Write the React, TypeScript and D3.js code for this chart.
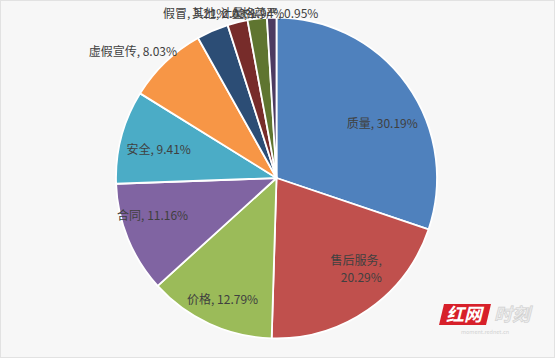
import React from 'react';
import * as d3 from 'd3';

const categories = ['质量', '售后服务', '价格', '合同', '安全', '虚假宣传', '假冒', '其他', '计量', '人格尊严'];
const shares = [30.19, 20.29, 12.79, 11.16, 9.41, 8.03, 3.21, 2.03, 1.94, 0.95];
const colors = ['#4F81BD', '#C0504D', '#9BBB59', '#8064A2', '#4BACC6', '#F79646', '#2C4D75', '#772C2A', '#5F7530', '#4D3B62'];

const W = 555, H = 358, cx = 276.5, cy = 178, R = 160.5;
const FONT = '"Noto Sans CJK SC", "Noto Sans", sans-serif';

export default function App() {
  const pie = d3.pie<number>().sort(null).value((d) => d);
  const arcs = pie(shares);
  const arc = d3.arc<d3.PieArcDatum<number>>().innerRadius(0).outerRadius(R);
  const labelArc = d3.arc<d3.PieArcDatum<number>>().innerRadius(124).outerRadius(124);
  const outerArc = d3.arc<d3.PieArcDatum<number>>().innerRadius(R + 8).outerRadius(R + 8);
  const fmt = (v: number) => v.toFixed(2) + '%';

  // layout nudges for inside labels (Excel-like placement)
  const nudges: [number, number][] = [[5, 17], [13, -11], [-2, 8], [-9, -10], [2, 2]];
  const topStarts = [163, 192, 220, 230];

  return (
    <svg width={W} height={H} style={{ position: 'fixed', left: 0, top: 0 }} fontFamily={FONT}>
      <rect x={0.5} y={0.5} width={W - 1} height={H - 1} fill="#f7f7f7" stroke="#e2e2e2" />
      <g transform={`translate(${cx},${cy})`}>
        {arcs.map((a, i) => (
          <path key={i} d={arc(a) as string} fill={colors[i]} stroke="#ffffff" strokeWidth={1.8} strokeLinejoin="round" />
        ))}
      </g>
      <g fill="#404040" fontSize={12}>
        {arcs.map((a, i) => {
          const label = `${categories[i]}, ${fmt(shares[i])}`;
          if (i < 5) {
            const [x, y] = labelArc.centroid(a);
            const [nx, ny] = nudges[i];
            if (i === 1) {
              return (
                <text key={i} x={cx + x + nx} y={cy + y + ny} textAnchor="middle">
                  <tspan x={cx + x + nx - 4} dy={-4}>{categories[i]},</tspan>
                  <tspan x={cx + x + nx + 1} dy={17}>{fmt(shares[i])}</tspan>
                </text>
              );
            }
            return (
              <text key={i} x={cx + x + nx} y={cy + y + ny} textAnchor="middle" dominantBaseline="central">
                {label}
              </text>
            );
          }
          if (i === 5) {
            const [x, y] = outerArc.centroid(a);
            return (
              <text key={i} x={cx + x + 17} y={cy + y - 6} textAnchor="end" dominantBaseline="central">
                {label}
              </text>
            );
          }
          return (
            <text key={i} x={topStarts[i - 6]} y={12} dominantBaseline="central">
              {label}
            </text>
          );
        })}
      </g>
      {/* watermark */}
      <g>
        <path d="M444,304 L491,304 L486,325 L439,325 Z" fill="#d7202a" />
        <text x={464} y={321} textAnchor="middle" fontSize={18} fontWeight="bold" fontStyle="italic" fill="#ffffff" fontFamily={FONT}>红网</text>
        <text x={512} y={321} textAnchor="middle" fontSize={18} fontWeight="bold" fontStyle="italic" fill="#ececec" stroke="#cfcfcf" strokeWidth={0.6} fontFamily={FONT}>时刻</text>
        <text x={485} y={334} textAnchor="middle" fontSize={5.5} fill="#d2d2d2" fontFamily={FONT}>moment.rednet.cn</text>
      </g>
    </svg>
  );
}
